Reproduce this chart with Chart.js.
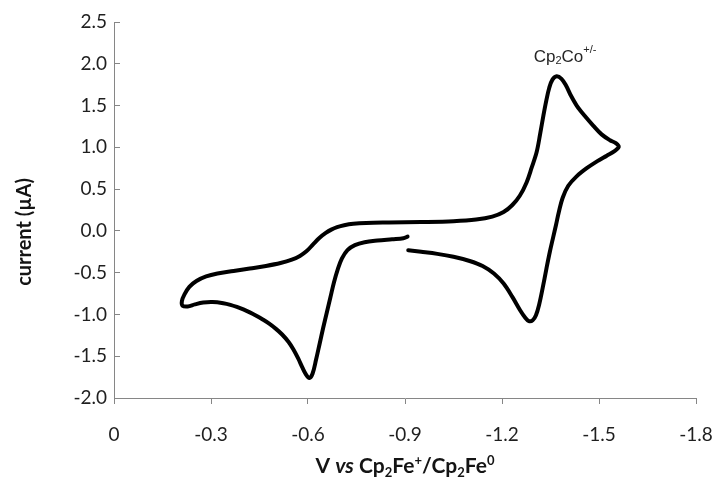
<!DOCTYPE html>
<html>
<head>
<meta charset="utf-8">
<script src="https://cdn.jsdelivr.net/npm/chart.js@4.4.1/dist/chart.umd.min.js"></script>
<style>
  html, body { margin: 0; padding: 0; background: #ffffff; }
  #wrap { width: 719px; height: 477px; position: relative; }
</style>
</head>
<body>
<div id="wrap"><canvas id="c" width="719" height="477"></canvas></div>
<script>
// Potential (V vs Cp2Fe+/Cp2Fe0), in scan order
const potential = [
  -0.910, -0.950, -1.000, -1.050, -1.100, -1.140, -1.175, -1.205, -1.232, -1.256,
  -1.272, -1.283, -1.295, -1.305, -1.315, -1.326, -1.337, -1.348, -1.358, -1.367,
  -1.376, -1.388, -1.405, -1.430, -1.462, -1.495, -1.524, -1.548, -1.561, -1.552,
  -1.534, -1.508, -1.482, -1.455, -1.431, -1.413, -1.398, -1.384, -1.369, -1.356,
  -1.346, -1.337, -1.328, -1.318, -1.307, -1.292, -1.276, -1.255, -1.232, -1.205,
  -1.170, -1.120, -1.050, -0.950, -0.850, -0.780, -0.740, -0.712, -0.690, -0.672,
  -0.655, -0.635, -0.615, -0.595, -0.575, -0.550, -0.515, -0.470, -0.420, -0.370,
  -0.320, -0.285, -0.255, -0.233, -0.218, -0.210, -0.212, -0.228, -0.250, -0.276,
  -0.305, -0.338, -0.360, -0.380, -0.400, -0.420, -0.440, -0.460, -0.480, -0.500,
  -0.520, -0.540, -0.555, -0.570, -0.582, -0.594, -0.604, -0.614, -0.625, -0.636,
  -0.647, -0.658, -0.669, -0.680, -0.692, -0.705, -0.722, -0.745, -0.775, -0.815,
  -0.860, -0.895, -0.908
];
// Current (µA)
const current = [
  -0.232, -0.250, -0.275, -0.310, -0.360, -0.420, -0.510, -0.630, -0.790, -0.950,
  -1.040, -1.080, -1.070, -1.010, -0.880, -0.680, -0.460, -0.250, -0.080, 0.070,
  0.230, 0.400, 0.540, 0.650, 0.750, 0.835, 0.900, 0.955, 1.005, 1.050,
  1.085, 1.155, 1.260, 1.380, 1.500, 1.620, 1.740, 1.820, 1.850, 1.810,
  1.710, 1.560, 1.380, 1.160, 0.940, 0.760, 0.580, 0.420, 0.310, 0.225,
  0.170, 0.135, 0.115, 0.105, 0.100, 0.095, 0.085, 0.068, 0.045, 0.015,
  -0.025, -0.085, -0.165, -0.245, -0.300, -0.345, -0.385, -0.420, -0.450, -0.480,
  -0.510, -0.545, -0.600, -0.670, -0.760, -0.840, -0.895, -0.905, -0.880, -0.858,
  -0.852, -0.866, -0.885, -0.910, -0.940, -0.975, -1.015, -1.060, -1.110, -1.170,
  -1.240, -1.330, -1.420, -1.530, -1.630, -1.720, -1.760, -1.710, -1.540, -1.350,
  -1.160, -0.980, -0.800, -0.620, -0.460, -0.330, -0.230, -0.170, -0.135, -0.115,
  -0.100, -0.088, -0.068
];
const xTickValues = [0, -0.3, -0.6, -0.9, -1.2, -1.5, -1.8];
const yTickValues = [-2.0, -1.5, -1.0, -0.5, 0.0, 0.5, 1.0, 1.5, 2.0, 2.5];
const xTitle = [
  { t: 'V ', style: 'bold' }, { t: 'vs', style: 'italic bold' }, { t: ' Cp', style: 'bold' },
  { t: '2', style: 'bold', small: true, dy: 4 }, { t: 'Fe', style: 'bold' },
  { t: '+', style: 'bold', small: true, dy: -8 }, { t: '/Cp', style: 'bold' },
  { t: '2', style: 'bold', small: true, dy: 4 }, { t: 'Fe', style: 'bold' },
  { t: '0', style: 'bold', small: true, dy: -8 }
];
const yTitle = 'current (µA)';
const annotation = { x: -1.395, y: 2.1, parts: [
  { t: 'Cp' }, { t: '2', small: true, dy: 2 }, { t: 'Co' }, { t: '+/-', small: true, dy: -9 }
]};

const points = potential.map((v, i) => ({ x: v, y: current[i] }));

function drawRich(ctx, parts, cx, baseY, size, family, color) {
  const fontOf = p => `${p.style || 'normal'} ${p.small ? Math.round(size * 0.62) : size}px ${family}`;
  let total = 0;
  parts.forEach(p => { ctx.font = fontOf(p); total += ctx.measureText(p.t).width; });
  let x = cx - total / 2;
  ctx.fillStyle = color;
  ctx.textAlign = 'left';
  ctx.textBaseline = 'alphabetic';
  parts.forEach(p => {
    ctx.font = fontOf(p);
    ctx.fillText(p.t, x, baseY + (p.dy || 0));
    x += ctx.measureText(p.t).width;
  });
}

const textPlugin = {
  id: 'texts',
  afterDraw(chart) {
    const ctx = chart.ctx;
    const xs = chart.scales.x, ys = chart.scales.y;
    ctx.save();
    drawRich(ctx, xTitle, (xs.left + xs.right) / 2, 473, 21, 'Lato', '#141414');
    ctx.translate(31, 232);
    ctx.rotate(-Math.PI / 2);
    ctx.font = 'bold 20px Lato';
    ctx.fillStyle = '#141414';
    ctx.textAlign = 'center';
    ctx.textBaseline = 'alphabetic';
    ctx.fillText(yTitle, 0, 0);
    ctx.restore();
    ctx.save();
    const ax = xs.getPixelForValue(annotation.x);
    const ay = ys.getPixelForValue(annotation.y);
    drawRich(ctx, annotation.parts, ax, ay + 7, 17, '"Liberation Sans"', '#262626');
    ctx.restore();
  }
};

new Chart(document.getElementById('c'), {
  type: 'scatter',
  data: {
    datasets: [{
      data: points,
      showLine: true,
      borderColor: '#000000',
      borderWidth: 4,
      pointRadius: 0,
      tension: 0.35,
      borderJoinStyle: 'round',
      borderCapStyle: 'round',
      fill: false
    }]
  },
  options: {
    responsive: false,
    animation: false,
    devicePixelRatio: 1,
    layout: { padding: { left: 0, right: 23, top: 22, bottom: 0 } },
    plugins: { legend: { display: false }, tooltip: { enabled: false } },
    scales: {
      x: {
        type: 'linear',
        reverse: true,
        min: -1.8, max: 0,
        afterBuildTicks: s => { s.ticks = xTickValues.map(v => ({ value: v })); },
        afterFit: s => { s.height = 79; s.paddingLeft = 0; s.paddingRight = 0; },
        ticks: {
          autoSkip: false, maxRotation: 0, padding: 19,
          color: '#1f1f1f', font: { family: 'Lato', size: 19 },
          callback: v => (Math.abs(v) < 1e-9 ? '0' : v.toFixed(1))
        },
        grid: { drawOnChartArea: false, drawTicks: true, tickLength: 6, color: '#868686', tickColor: '#868686' },
        border: { display: true, color: '#868686', width: 1 }
      },
      y: {
        type: 'linear',
        min: -2, max: 2.5,
        afterBuildTicks: s => { s.ticks = yTickValues.map(v => ({ value: v })); },
        afterFit: s => { s.width = 114; s.paddingTop = 0; s.paddingBottom = 0; },
        ticks: {
          autoSkip: false, padding: 13,
          color: '#1f1f1f', font: { family: 'Lato', size: 19 },
          callback: v => v.toFixed(1)
        },
        grid: { drawOnChartArea: false, drawTicks: true, tickLength: -6, color: '#868686', tickColor: '#868686' },
        border: { display: true, color: '#868686', width: 1 }
      }
    }
  },
  plugins: [textPlugin]
});
</script>
</body>
</html>
